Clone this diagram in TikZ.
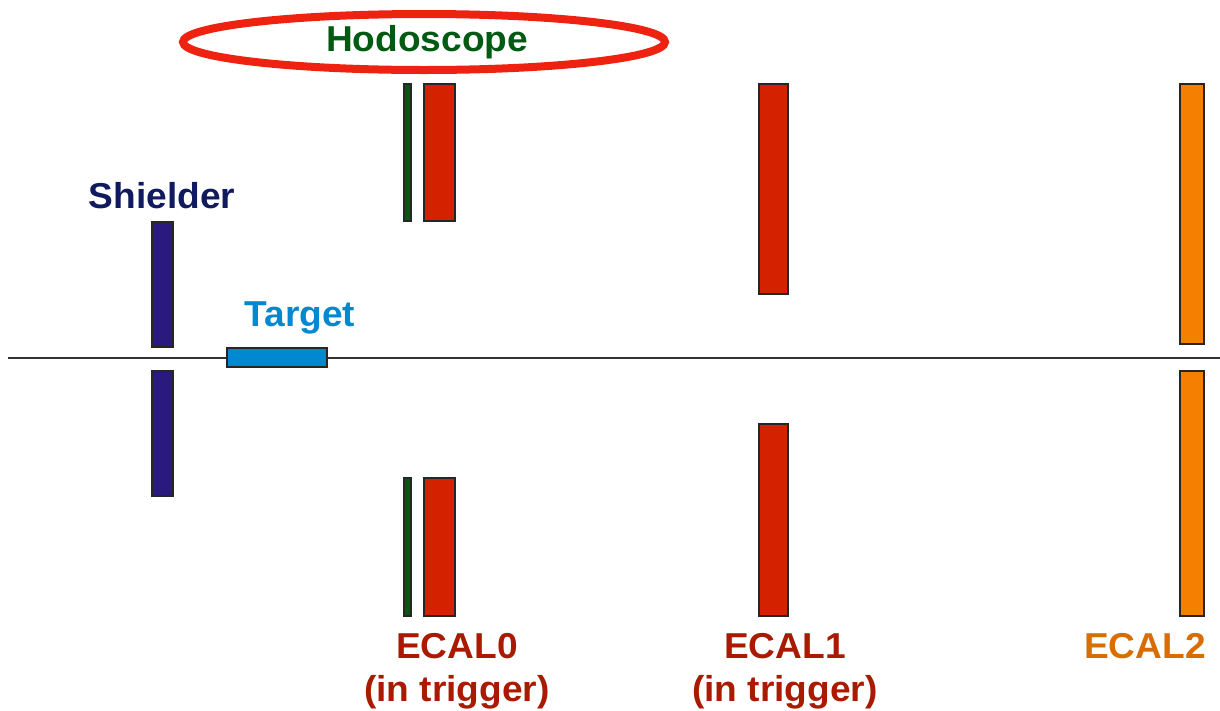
\documentclass[tikz,border=0pt]{standalone}
\usepackage{fontspec}
\setmainfont{Liberation Sans}
\usetikzlibrary{shapes.geometric}
\definecolor{shieldblue}{HTML}{2A1A7E}
\definecolor{shieldtext}{HTML}{101A5E}
\definecolor{targetblue}{HTML}{0088D0}
\definecolor{hodogreen}{HTML}{0A5416}
\definecolor{hodotext}{HTML}{005A12}
\definecolor{ecalred}{HTML}{D42200}
\definecolor{ecaltext}{HTML}{AA1A00}
\definecolor{ecalorange}{HTML}{F47F00}
\definecolor{orangetext}{HTML}{D86E00}
\definecolor{ringred}{HTML}{EE2211}
\tikzset{
  block/.style={draw=black!85, line width=1.3pt, inner sep=0pt, outer sep=0pt, anchor=north west},
  lbl/.style={font=\fontsize{36}{40}\selectfont\bfseries, inner sep=0pt, xscale=1.03},
}
\newcommand{\slab}[6]{% name, x0, y0, x1, y1, colour
  \node[block, fill=#6, minimum width={(#4-#2)*1pt}, minimum height={(#5-#3)*1pt}] (#1) at (#2,#3) {};}
\begin{document}
\begin{tikzpicture}[x=1pt, y=-1pt]
\useasboundingbox (0,0) rectangle (1220,710);

% beam axis
\coordinate (beamL) at (8,358);
\coordinate (beamR) at (1220,358);
\draw[line width=1.3pt, black!80] (beamL) -- (beamR);

% shielder
\slab{shU}{152}{222}{173}{347}{shieldblue}
\slab{shD}{152}{371}{173}{496}{shieldblue}
% target
\slab{tgt}{227}{348}{327}{367}{targetblue}
% hodoscope
\slab{hoU}{404}{84}{411}{221}{hodogreen}
\slab{hoD}{404}{478}{411}{616}{hodogreen}
% ECAL0
\slab{e0U}{424}{84}{455}{221}{ecalred}
\slab{e0D}{424}{478}{455}{616}{ecalred}
% ECAL1
\slab{e1U}{759}{84}{788}{294}{ecalred}
\slab{e1D}{759}{424}{788}{616}{ecalred}
% ECAL2
\slab{e2U}{1180}{84}{1204}{344}{ecalorange}
\slab{e2D}{1180}{371}{1204}{616}{ecalorange}

% labels
\node[lbl, text=hodotext] (hodo) at (427,42) {Hodoscope};
\node[draw=ringred, line width=8pt, ellipse, minimum width=482pt, minimum height=56pt] (ring) at (424,42) {};
\node[lbl, text=shieldtext] (shl) at (162,196) {Shielder};
\node[lbl, text=targetblue] (tgl) at (300,318) {Target};
\node[lbl, text=ecaltext] (e0l) at (457,646) {ECAL0};
\node[lbl, text=ecaltext] (e0t) at (457,692) {(in trigger)};
\node[lbl, text=ecaltext] (e1l) at (785,646) {ECAL1};
\node[lbl, text=ecaltext] (e1t) at (785,692) {(in trigger)};
\node[lbl, text=orangetext] (e2l) at (1145,646) {ECAL2};
\end{tikzpicture}
\end{document}
